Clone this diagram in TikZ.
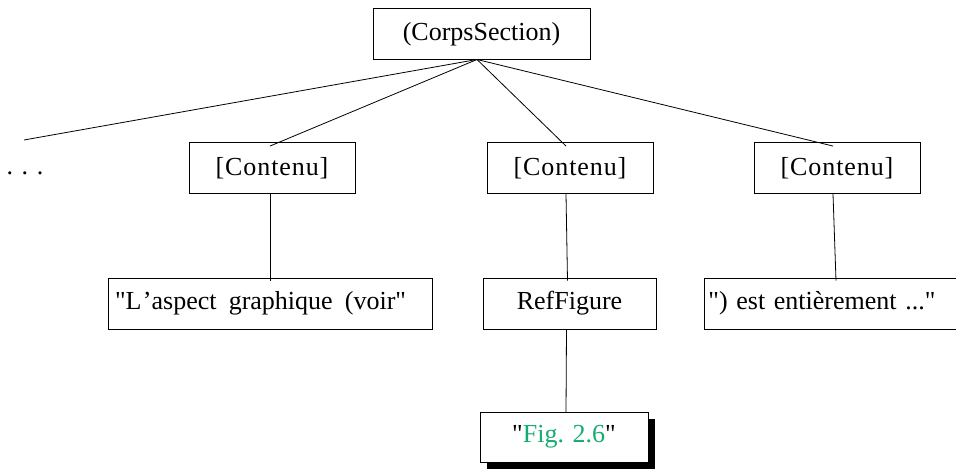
\documentclass[tikz,border=0pt]{standalone}
\usepackage{fontspec}
\setmainfont{Liberation Serif}[Ligatures=TeXOff]
\newfontfamily\spacedfont[LetterSpace=3.5,Ligatures=TeXOff]{Liberation Serif}
\definecolor{figgreen}{RGB}{20,172,112}
\newcommand{\dq}{\symbol{34}}
\begin{document}
\begin{tikzpicture}[x=1pt,y=-1pt,
  every node/.style={font=\fontsize{26}{30}\selectfont},
  treebox/.style={draw=black,line width=0.9pt,rectangle,inner sep=0pt,minimum height=51pt,fill=white},
  link/.style={draw=black,line width=0.8pt}]
\clip (0,0) rectangle (956,470);
\fill[white] (0,0) rectangle (956,470);
% top
\node[treebox,minimum width=217pt] (top) at (481.5,34) {(CorpsSection)};
\coordinate (hub) at (477,59.5);
% level 1
\node (dots) at (25,173) {. . .};
\coordinate (dotsend) at (24,140);
\node[treebox,minimum width=166pt] (c1) at (272,168) {\spacedfont[Contenu]};
\node[treebox,minimum width=166pt] (c2) at (570,168) {\spacedfont[Contenu]};
\node[treebox,minimum width=166pt] (c3) at (837,168) {\spacedfont[Contenu]};
% level 2
\node[treebox,minimum width=324pt] (l1) at (270,303.5) {\makebox[316pt][l]{\hspace{3pt}\makebox[291pt][s]{\dq L\kern1.5pt’aspect graphique (voir\dq}}};
\node[treebox,minimum width=173pt] (rf) at (569.5,303.5) {RefFigure};
\node[treebox,anchor=west,text width=262pt,inner xsep=4pt,align=left] (l3) at (704,303.5) {\dq) est entièrement ...\dq};
% level 3 with shadow
\fill[black] (487,419) rectangle (655,469);
\node[treebox,minimum width=168pt,minimum height=50pt] (fig) at (564,437) {\dq\textcolor{figgreen}{Fig. 2.6}\dq};
% connectors
\draw[link] (hub) -- (dotsend);
\draw[link] (hub) -- ([xshift=-2pt,yshift=-4pt]c1.north);
\draw[link] (hub) -- ([xshift=-4pt,yshift=-4pt]c2.north);
\draw[link] (hub) -- ([xshift=-4pt,yshift=-4pt]c3.north);
\draw[link] ([xshift=-2pt]c1.south) -- ([yshift=-3pt]l1.north);
\draw[link] ([xshift=-4pt]c2.south) -- ([xshift=-2pt,yshift=-3pt]rf.north);
\draw[link] ([xshift=-4pt]c3.south) -- ([xshift=-1pt,yshift=-3pt]l3.north -| c3.south);
\draw[link] ([xshift=-3pt]rf.south) -- ([xshift=2pt,yshift=-1pt]fig.north);
\end{tikzpicture}
\end{document}
